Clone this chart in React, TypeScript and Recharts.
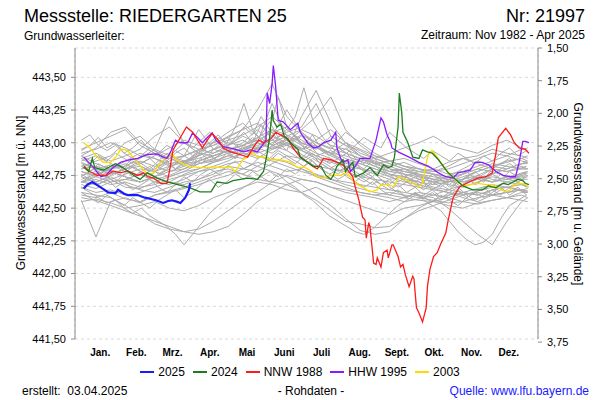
import { LineChart, Line, XAxis, YAxis, CartesianGrid, Legend } from "recharts";

// day-of-year axis: ticks on month starts, labels in the middle of each month
const MONTH_STARTS = [0, 31, 59, 90, 120, 151, 181, 212, 243, 273, 304, 334, 365];
const MONTH_MIDS = [15.5, 45, 74.5, 105, 135.5, 166, 196.5, 227.5, 258, 288.5, 319, 349.5];
const MONTH_LABELS = ["Jan.", "Feb.", "Mrz.", "Apr.", "Mai", "Juni", "Juli", "Aug.", "Sept.", "Okt.", "Nov.", "Dez."];

const LEFT_TICKS = [441.5, 441.75, 442.0, 442.25, 442.5, 442.75, 443.0, 443.25, 443.5];
const RIGHT_TICKS = [1.5, 1.75, 2.0, 2.25, 2.5, 2.75, 3.0, 3.25, 3.5, 3.75];

// all other years (grey), sampled every 12 days
const GRAY_DAYS = [0, 12, 24, 36, 48, 60, 72, 84, 96, 108, 120, 132, 144, 156, 168, 180, 192, 204, 216, 228, 240, 252, 264, 276, 288, 300, 312, 324, 336, 348, 360, 365];
const GRAY_YEARS: number[][] = [
  [442.85, 442.8, 442.83, 442.78, 442.75, 442.8, 442.86, 442.9, 442.95, 442.92, 442.98, 443.05, 443.0, 443.1, 443.02, 442.95, 442.98, 442.9, 442.85, 442.88, 442.82, 442.78, 442.8, 442.74, 442.7, 442.72, 442.68, 442.75, 442.8, 442.78, 442.82, 442.8],
  [442.7, 442.68, 442.72, 442.66, 442.65, 442.7, 442.74, 442.78, 442.8, 442.85, 442.9, 442.88, 442.95, 443.05, 443.25, 443.08, 442.98, 442.92, 442.86, 442.8, 442.78, 442.74, 442.7, 442.68, 442.65, 442.62, 442.6, 442.63, 442.66, 442.7, 442.68, 442.66],
  [442.92, 442.95, 443.0, 442.96, 442.9, 442.88, 442.84, 442.86, 442.9, 442.95, 443.0, 442.98, 443.02, 443.08, 443.12, 443.0, 442.95, 443.05, 442.98, 442.9, 442.86, 442.82, 442.85, 442.8, 442.78, 442.8, 442.84, 442.88, 442.92, 442.9, 442.86, 442.85],
  [442.6, 442.58, 442.62, 442.57, 442.55, 442.6, 442.63, 442.66, 442.7, 442.74, 442.78, 442.76, 442.82, 442.88, 442.85, 442.8, 442.76, 442.72, 442.68, 442.65, 442.62, 442.6, 442.58, 442.56, 442.55, 442.58, 442.62, 442.6, 442.64, 442.66, 442.63, 442.62],
  [442.78, 442.75, 442.8, 442.84, 442.78, 442.72, 442.75, 442.8, 442.86, 442.9, 442.94, 443.0, 443.1, 442.98, 442.94, 443.2, 443.4, 443.15, 443.0, 442.92, 442.88, 442.84, 442.8, 442.76, 442.74, 442.72, 442.76, 442.8, 442.78, 442.74, 442.76, 442.77],
  [442.56, 442.28, 442.55, 442.58, 442.54, 442.6, 442.62, 442.65, 442.68, 442.72, 442.75, 442.8, 442.85, 442.82, 442.78, 442.8, 442.74, 442.7, 442.66, 442.62, 442.6, 442.58, 442.55, 442.57, 442.6, 442.58, 442.55, 442.53, 442.56, 442.58, 442.6, 442.58],
  [442.88, 442.92, 442.86, 442.9, 442.95, 443.05, 443.12, 443.0, 442.95, 442.98, 443.05, 443.1, 443.15, 443.05, 443.0, 442.95, 443.02, 443.1, 443.0, 442.95, 442.9, 442.86, 442.82, 442.78, 442.8, 442.85, 442.88, 442.9, 442.95, 442.92, 442.9, 442.88],
  [442.62, 442.6, 442.58, 442.52, 442.45, 442.38, 442.34, 442.32, 442.34, 442.4, 442.48, 442.56, 442.62, 442.7, 442.75, 442.72, 442.7, 442.66, 442.62, 442.6, 442.58, 442.55, 442.58, 442.62, 442.6, 442.64, 442.62, 442.65, 442.68, 442.66, 442.64, 442.63],
  [442.75, 442.78, 442.72, 442.76, 442.8, 442.78, 442.74, 442.78, 442.84, 442.88, 442.92, 442.95, 443.0, 443.3, 443.05, 442.98, 442.92, 442.88, 442.82, 442.8, 442.76, 442.72, 442.74, 442.7, 442.68, 442.7, 442.72, 442.75, 442.72, 442.7, 442.73, 442.74],
  [442.7, 442.72, 442.68, 442.7, 442.66, 442.68, 442.72, 442.75, 442.78, 442.8, 442.84, 442.86, 442.82, 442.78, 442.74, 442.68, 442.6, 442.52, 442.42, 442.33, 442.3, 442.32, 442.42, 442.5, 442.56, 442.6, 442.62, 442.6, 442.64, 442.66, 442.68, 442.67],
  [442.82, 442.86, 442.9, 443.0, 443.05, 442.95, 442.9, 442.86, 442.9, 442.95, 442.98, 443.02, 442.96, 442.92, 443.0, 443.1, 443.05, 442.98, 442.95, 442.9, 442.85, 442.82, 442.78, 442.75, 442.72, 442.74, 442.8, 442.86, 442.82, 442.85, 442.88, 442.86],
  [442.68, 442.65, 442.7, 442.72, 442.7, 442.74, 442.7, 442.76, 442.8, 442.85, 442.88, 442.92, 442.9, 442.86, 442.82, 442.78, 442.75, 442.72, 442.7, 442.68, 442.66, 442.64, 442.62, 442.6, 442.58, 442.5, 442.4, 442.3, 442.22, 442.4, 442.55, 442.58],
  [442.9, 442.84, 442.8, 442.86, 442.92, 442.88, 442.82, 442.85, 442.92, 443.0, 443.08, 443.15, 443.05, 442.98, 443.02, 442.96, 442.9, 442.94, 442.88, 442.84, 442.8, 442.76, 442.74, 442.78, 442.76, 442.74, 442.7, 442.72, 442.76, 442.8, 442.84, 442.85],
  [442.55, 442.57, 442.54, 442.5, 442.52, 442.55, 442.5, 442.48, 442.52, 442.58, 442.62, 442.66, 442.7, 442.68, 442.64, 442.62, 442.66, 442.6, 442.56, 442.52, 442.48, 442.45, 442.5, 442.52, 442.55, 442.52, 442.5, 442.54, 442.56, 442.58, 442.56, 442.55],
  [442.8, 442.82, 442.78, 442.74, 442.7, 442.74, 442.8, 442.9, 443.1, 442.95, 442.92, 442.96, 443.0, 442.95, 442.98, 443.05, 442.96, 442.92, 443.0, 442.9, 442.84, 442.8, 442.76, 442.72, 442.7, 442.68, 442.66, 442.7, 442.74, 442.72, 442.76, 442.78],
  [442.95, 443.0, 443.05, 443.1, 442.98, 442.92, 442.88, 442.9, 442.94, 442.98, 443.02, 443.06, 443.12, 443.2, 443.1, 443.02, 442.96, 443.02, 442.92, 442.88, 442.84, 442.86, 442.88, 442.84, 442.8, 442.76, 442.78, 442.82, 442.86, 442.9, 442.95, 442.96],
  [442.65, 442.7, 442.74, 442.68, 442.64, 442.62, 442.66, 442.7, 442.72, 442.76, 442.82, 442.8, 442.78, 442.84, 442.9, 442.88, 442.82, 442.8, 442.78, 442.74, 442.72, 442.7, 442.68, 442.66, 442.64, 442.62, 442.58, 442.55, 442.6, 442.62, 442.64, 442.65],
  [442.72, 442.76, 442.8, 442.82, 442.88, 442.95, 443.2, 443.0, 442.92, 442.9, 442.94, 442.9, 442.96, 443.02, 443.08, 443.12, 443.3, 443.05, 442.98, 442.94, 442.88, 442.84, 442.8, 442.78, 442.76, 442.72, 442.7, 442.74, 442.7, 442.72, 442.74, 442.75],
  [442.58, 442.56, 442.52, 442.48, 442.44, 442.4, 442.36, 442.32, 442.3, 442.32, 442.36, 442.45, 442.55, 442.62, 442.68, 442.72, 442.7, 442.66, 442.64, 442.62, 442.6, 442.62, 442.6, 442.58, 442.56, 442.54, 442.55, 442.58, 442.6, 442.62, 442.64, 442.63],
  [442.78, 442.74, 442.7, 442.72, 442.76, 442.7, 442.68, 442.72, 442.78, 442.82, 442.86, 442.92, 442.88, 442.95, 443.0, 442.94, 442.88, 442.85, 442.82, 442.84, 442.8, 442.76, 442.72, 442.7, 442.66, 442.64, 442.68, 442.72, 442.7, 442.74, 442.72, 442.72],
  [442.66, 442.62, 442.64, 442.6, 442.62, 442.66, 442.7, 442.68, 442.72, 442.78, 442.8, 442.76, 442.72, 442.7, 442.68, 442.62, 442.56, 442.48, 442.4, 442.38, 442.35, 442.36, 442.42, 442.48, 442.52, 442.56, 442.6, 442.62, 442.6, 442.58, 442.62, 442.62],
  [442.86, 442.9, 442.84, 442.8, 442.84, 442.9, 442.96, 443.02, 442.98, 443.0, 443.04, 443.1, 443.25, 443.45, 443.2, 443.08, 443.0, 442.96, 442.92, 442.88, 442.84, 442.8, 442.78, 442.76, 442.72, 442.7, 442.72, 442.78, 442.82, 442.8, 442.84, 442.84],
  [442.74, 442.7, 442.75, 442.8, 442.86, 442.82, 442.78, 442.8, 442.84, 442.86, 442.9, 442.94, 442.92, 442.96, 443.0, 443.06, 443.0, 442.95, 443.08, 443.0, 442.92, 442.86, 442.82, 442.8, 442.78, 442.82, 442.88, 442.84, 442.8, 442.78, 442.8, 442.8],
  [442.7, 442.74, 442.78, 442.74, 442.7, 442.74, 442.78, 442.82, 442.86, 442.9, 442.94, 442.98, 442.95, 443.0, 443.05, 443.1, 443.2, 443.35, 443.1, 442.98, 442.9, 442.86, 442.82, 442.8, 442.76, 442.74, 442.76, 442.8, 442.84, 442.82, 442.8, 442.8],
  [442.84, 442.8, 442.76, 442.8, 442.82, 442.78, 442.82, 442.86, 442.88, 442.92, 442.96, 442.94, 442.98, 443.02, 442.98, 442.94, 442.9, 442.86, 442.84, 442.86, 442.88, 442.92, 442.96, 443.0, 443.05, 442.98, 442.95, 442.92, 442.98, 443.02, 442.96, 442.94],
  [442.9, 442.96, 443.08, 443.12, 443.0, 442.94, 442.88, 442.84, 442.86, 442.9, 442.94, 442.98, 443.04, 443.1, 443.06, 443.0, 442.96, 442.92, 442.9, 442.86, 442.82, 442.78, 442.76, 442.74, 442.72, 442.7, 442.74, 442.78, 442.82, 442.86, 442.88, 442.9],
];

// a few more grey years, sampled weekly
const GRAY_WEEKS = [0, 7, 14, 21, 28, 35, 42, 49, 56, 63, 70, 77, 84, 91, 98, 105, 112, 119, 126, 133, 140, 147, 154, 161, 168, 175, 182, 189, 196, 203, 210, 217, 224, 231, 238, 245, 252, 259, 266, 273, 280, 287, 294, 301, 308, 315, 322, 329, 336, 343, 350, 357, 364];
const GRAY_WEEKLY: number[][] = [
  [442.8, 442.84, 442.78, 442.82, 442.76, 442.8, 442.74, 442.78, 442.82, 442.76, 442.8, 442.86, 442.82, 442.88, 442.92, 442.86, 442.9, 442.96, 442.92, 442.98, 443.04, 442.98, 443.1, 443.35, 443.12, 443.04, 442.98, 443.06, 442.96, 442.92, 442.88, 442.92, 442.84, 442.8, 442.86, 442.78, 442.74, 442.78, 442.72, 442.7, 442.74, 442.68, 442.72, 442.66, 442.7, 442.74, 442.68, 442.72, 442.76, 442.72, 442.78, 442.74, 442.76],
  [442.94, 442.98, 443.04, 442.96, 443.0, 442.92, 442.96, 443.02, 442.94, 442.9, 442.86, 442.92, 442.96, 442.9, 442.94, 443.0, 443.06, 442.98, 443.02, 443.08, 443.0, 443.14, 443.05, 442.98, 443.04, 442.94, 442.9, 442.96, 442.88, 442.84, 442.88, 442.8, 442.84, 442.78, 442.74, 442.8, 442.76, 442.7, 442.74, 442.68, 442.64, 442.7, 442.66, 442.72, 442.68, 442.74, 442.78, 442.72, 442.8, 442.84, 442.88, 442.82, 442.86],
  [442.62, 442.58, 442.54, 442.6, 442.56, 442.52, 442.58, 442.54, 442.5, 442.56, 442.6, 442.64, 442.58, 442.62, 442.68, 442.72, 442.66, 442.7, 442.76, 442.72, 442.78, 442.74, 442.7, 442.76, 442.7, 442.66, 442.6, 442.56, 442.5, 442.44, 442.4, 442.36, 442.32, 442.3, 442.34, 442.4, 442.46, 442.52, 442.56, 442.6, 442.58, 442.62, 442.56, 442.6, 442.64, 442.58, 442.62, 442.66, 442.6, 442.64, 442.62, 442.66, 442.6],
  [442.76, 442.72, 442.78, 442.74, 442.7, 442.76, 442.82, 442.78, 442.74, 442.8, 442.84, 442.8, 442.86, 442.82, 442.88, 442.84, 442.9, 442.94, 442.88, 442.96, 442.92, 443.0, 442.96, 443.04, 443.1, 443.2, 443.42, 443.18, 443.06, 442.98, 442.92, 442.96, 442.88, 442.84, 442.9, 442.82, 442.78, 442.8, 442.74, 442.7, 442.66, 442.72, 442.68, 442.64, 442.7, 442.74, 442.68, 442.72, 442.7, 442.76, 442.72, 442.7, 442.74],
  [442.66, 442.62, 442.58, 442.54, 442.56, 442.5, 442.46, 442.5, 442.44, 442.4, 442.36, 442.3, 442.22, 442.3, 442.38, 442.46, 442.52, 442.58, 442.62, 442.66, 442.7, 442.74, 442.78, 442.74, 442.8, 442.76, 442.82, 442.86, 442.8, 442.76, 442.72, 442.76, 442.7, 442.66, 442.7, 442.64, 442.6, 442.64, 442.58, 442.62, 442.58, 442.55, 442.6, 442.56, 442.52, 442.58, 442.62, 442.58, 442.62, 442.66, 442.6, 442.64, 442.62],
  [442.88, 442.84, 442.9, 442.86, 442.92, 442.88, 442.84, 442.9, 442.96, 442.92, 442.98, 442.94, 443.0, 442.96, 443.02, 443.08, 443.02, 442.96, 443.04, 443.12, 443.06, 443.2, 443.1, 443.02, 442.98, 443.04, 442.96, 443.0, 442.94, 442.9, 442.96, 442.92, 442.98, 443.04, 443.0, 442.96, 443.08, 443.02, 442.96, 442.92, 442.88, 442.94, 442.9, 442.86, 442.92, 442.88, 442.84, 442.9, 442.86, 442.92, 442.96, 442.9, 442.94],
  [442.7, 442.74, 442.68, 442.72, 442.66, 442.7, 442.64, 442.68, 442.72, 442.66, 442.62, 442.68, 442.74, 442.7, 442.76, 442.8, 442.76, 442.82, 442.86, 442.8, 442.84, 442.9, 442.86, 442.92, 442.88, 442.84, 442.9, 442.86, 442.8, 442.76, 442.8, 442.74, 442.7, 442.76, 442.72, 442.68, 442.64, 442.68, 442.62, 442.66, 442.6, 442.64, 442.58, 442.62, 442.66, 442.6, 442.56, 442.6, 442.64, 442.6, 442.66, 442.7, 442.66],
  [442.82, 442.78, 442.84, 442.8, 442.76, 442.82, 442.88, 442.84, 442.8, 442.86, 442.92, 442.88, 442.84, 442.9, 442.96, 442.92, 442.98, 443.04, 442.98, 442.94, 443.0, 443.06, 443.16, 443.04, 442.98, 442.94, 442.88, 442.92, 442.86, 442.82, 442.78, 442.82, 442.76, 442.72, 442.68, 442.72, 442.66, 442.62, 442.58, 442.62, 442.56, 442.52, 442.48, 442.4, 442.32, 442.26, 442.22, 442.24, 442.3, 442.42, 442.52, 442.56, 442.6],
  [442.74, 442.78, 442.82, 442.78, 442.84, 442.8, 442.86, 442.82, 442.78, 442.84, 442.88, 442.94, 442.9, 442.86, 442.92, 442.98, 443.04, 443.0, 443.12, 443.3, 443.1, 443.02, 442.96, 443.0, 442.94, 442.9, 442.86, 442.9, 442.84, 442.8, 442.84, 442.78, 442.74, 442.7, 442.74, 442.68, 442.72, 442.66, 442.7, 442.74, 442.7, 442.76, 442.72, 442.68, 442.74, 442.78, 442.72, 442.76, 442.8, 442.76, 442.72, 442.76, 442.78],
  [443.02, 443.06, 442.98, 442.94, 442.98, 442.92, 442.88, 442.84, 442.88, 442.82, 442.86, 442.8, 442.84, 442.88, 442.84, 442.9, 442.86, 442.92, 442.88, 442.94, 442.98, 442.92, 442.88, 442.94, 442.9, 442.86, 442.82, 442.88, 442.84, 442.8, 442.76, 442.82, 442.78, 442.74, 442.78, 442.72, 442.68, 442.74, 442.7, 442.66, 442.7, 442.64, 442.68, 442.72, 442.66, 442.7, 442.74, 442.7, 442.76, 442.8, 442.84, 442.8, 442.82],
];

// highlighted years: [day of year, level m ü. NN]
const Y2025: [number, number][] = [
  [2, 442.65], [5, 442.68], [9, 442.7], [14, 442.67], [19, 442.64], [22, 442.62], [28, 442.615], [30, 442.64], [35, 442.61], [38, 442.6], [46, 442.6], [52, 442.58], [57, 442.57], [61, 442.56], [67, 442.54], [71, 442.555], [74, 442.56], [78, 442.55], [81, 442.54], [85, 442.58], [88, 442.64], [89, 442.69],
];
const Y2024: [number, number][] = [
  [2, 442.815], [6, 442.78], [9, 442.88], [11, 442.81], [18, 442.79], [28, 442.84], [34, 442.81], [43, 442.75], [48, 442.72], [54, 442.77], [62, 442.73], [70, 442.7], [79, 442.68], [89, 442.655], [97, 442.625], [106, 442.625], [111, 442.7], [119, 442.69], [124, 442.71], [136, 442.73], [144, 442.72], [149, 442.78], [152, 442.92], [154, 443.04], [156, 443.25], [157, 443.17], [160, 443.12], [163, 443.14], [166, 443.05], [171, 443.0], [177, 442.95], [179, 442.89], [185, 442.85], [190, 442.82], [196, 442.82], [200, 442.75], [204, 442.72], [206, 442.75], [209, 442.82], [214, 442.87], [216, 442.78], [218, 442.81], [222, 442.85], [224, 442.74], [231, 442.77], [236, 442.81], [242, 442.75], [247, 442.83], [251, 442.81], [254, 442.82], [256, 442.89], [259, 443.12], [260, 443.38], [262, 443.23], [263, 443.08], [267, 443.0], [271, 442.89], [276, 442.88], [279, 442.945], [283, 442.93], [287, 442.92], [292, 442.87], [300, 442.77], [306, 442.72], [312, 442.67], [320, 442.64], [328, 442.64], [333, 442.67], [339, 442.655], [345, 442.69], [349, 442.68], [357, 442.72], [361, 442.71], [363, 442.69], [366, 442.68],
];
const NNW1988: [number, number][] = [
  [2, 442.82], [7, 442.78], [13, 442.75], [21, 442.75], [26, 442.785], [32, 442.77], [38, 442.785], [46, 442.75], [51, 442.77], [54, 442.74], [59, 442.73], [65, 442.69], [70, 442.69], [72, 442.78], [75, 442.945], [81, 443.04], [86, 443.12], [91, 443.08], [95, 443.02], [99, 442.96], [103, 443.02], [107, 443.07], [112, 443.02], [116, 442.96], [122, 442.93], [130, 442.91], [136, 442.89], [141, 442.97], [145, 443.02], [149, 443.0], [155, 443.03], [159, 443.08], [163, 443.06], [169, 443.03], [173, 442.96], [179, 442.89], [185, 442.85], [189, 442.82], [193, 442.8], [198, 442.88], [204, 442.87], [209, 442.85], [214, 442.83], [218, 442.79], [222, 442.74], [224, 442.66], [227, 442.56], [230, 442.43], [232, 442.41], [233, 442.27], [235, 442.39], [236, 442.36], [239, 442.08], [241, 442.07], [242, 442.12], [245, 442.05], [247, 442.16], [250, 442.18], [251, 442.12], [254, 442.22], [255, 442.22], [259, 442.13], [261, 442.05], [263, 442.07], [265, 441.99], [268, 441.9], [271, 441.98], [272, 441.96], [274, 441.74], [276, 441.7], [279, 441.63], [282, 441.74], [283, 441.9], [285, 442.03], [288, 442.13], [291, 442.16], [294, 442.23], [298, 442.31], [300, 442.41], [304, 442.58], [309, 442.66], [317, 442.7], [324, 442.73], [331, 442.74], [336, 442.77], [339, 442.92], [341, 443.04], [347, 443.11], [351, 443.06], [354, 443.0], [358, 442.96], [363, 442.95], [366, 442.92],
];
const HHW1995: [number, number][] = [
  [2, 442.89], [6, 442.85], [10, 442.81], [16, 442.74], [20, 442.75], [26, 442.81], [32, 442.85], [40, 442.87], [46, 442.88], [54, 442.91], [62, 442.915], [67, 442.89], [70, 442.88], [73, 442.93], [77, 443.02], [81, 443.0], [87, 443.0], [91, 443.075], [95, 443.04], [99, 443.0], [103, 443.04], [107, 443.075], [110, 443.02], [116, 442.97], [124, 442.955], [133, 442.93], [138, 442.945], [144, 442.93], [148, 442.98], [151, 443.02], [152, 443.38], [154, 443.3], [156, 443.45], [157, 443.59], [159, 443.42], [161, 443.17], [165, 443.16], [171, 443.1], [177, 443.15], [179, 443.08], [185, 443.0], [190, 442.96], [194, 442.97], [198, 443.0], [204, 443.02], [208, 443.08], [209, 442.96], [212, 442.88], [214, 442.85], [218, 442.87], [220, 442.78], [224, 442.82], [228, 442.88], [236, 442.88], [241, 443.02], [245, 443.19], [247, 443.16], [250, 443.06], [253, 443.0], [254, 442.96], [259, 442.93], [268, 442.89], [276, 442.85], [284, 442.82], [292, 442.77], [298, 442.74], [304, 442.73], [308, 442.77], [313, 442.78], [318, 442.79], [322, 442.85], [328, 442.85], [333, 442.83], [339, 442.78], [345, 442.75], [351, 442.74], [355, 442.74], [358, 442.85], [361, 443.01], [363, 443.01], [366, 443.0],
];
const Y2003: [number, number][] = [
  [2, 443.0], [7, 442.96], [13, 442.89], [18, 442.85], [24, 442.85], [28, 442.89], [32, 442.945], [34, 442.95], [38, 442.94], [42, 442.89], [46, 442.85], [51, 442.79], [55, 442.76], [59, 442.77], [65, 442.85], [70, 442.89], [74, 442.92], [77, 442.88], [81, 442.85], [87, 442.82], [92, 442.815], [97, 442.81], [103, 442.81], [108, 442.815], [114, 442.81], [122, 442.815], [126, 442.78], [132, 442.87], [136, 442.89], [140, 442.93], [144, 442.89], [149, 442.89], [155, 442.87], [163, 442.87], [171, 442.85], [177, 442.81], [182, 442.815], [187, 442.79], [193, 442.74], [198, 442.73], [204, 442.75], [212, 442.75], [216, 442.77], [220, 442.74], [226, 442.68], [231, 442.655], [236, 442.625], [242, 442.64], [245, 442.68], [250, 442.68], [255, 442.665], [257, 442.69], [259, 442.74], [265, 442.72], [271, 442.69], [276, 442.66], [279, 442.69], [282, 442.845], [284, 442.92], [287, 442.94], [291, 442.89], [296, 442.82], [302, 442.75], [308, 442.7], [313, 442.67], [318, 442.68], [324, 442.69], [331, 442.68], [336, 442.68], [341, 442.655], [347, 442.625], [351, 442.64], [354, 442.68], [358, 442.69], [362, 442.685], [366, 442.66],
];

const HIGHLIGHTS = [
  { name: "2025", color: "#1a1aff", width: 2.2, points: Y2025 },
  { name: "2024", color: "#1c7d1c", width: 1.3, points: Y2024 },
  { name: "NNW 1988", color: "#ff1a1a", width: 1.3, points: NNW1988 },
  { name: "HHW 1995", color: "#8a1aff", width: 1.3, points: HHW1995 },
  { name: "2003", color: "#ffdc00", width: 1.3, points: Y2003 },
];

const X_DOMAIN = [-5.15, 373.4];
const FONT = "'Liberation Sans', Arial, sans-serif";
const AXIS_GREY = "#8c8c8c";
const GREY_LINE = "#ababab";

const fmt = (v: number) => v.toFixed(2).replace(".", ",");

function ChartLegend() {
  return (
    <div style={{ display: "flex", justifyContent: "center", alignItems: "center", fontSize: 12, fontFamily: FONT, color: "#000" }}>
      {HIGHLIGHTS.map((h) => (
        <span key={h.name} style={{ display: "inline-flex", alignItems: "center", margin: "0 4px" }}>
          <span style={{ display: "inline-block", width: 14, height: h.width > 2 ? 2.5 : 1.5, background: h.color, marginRight: 4 }} />
          {h.name}
        </span>
      ))}
    </div>
  );
}

export default function App() {
  const grayData = [
    ...GRAY_YEARS.map((row) => row.map((v, i) => ({ d: GRAY_DAYS[i], v }))),
    ...GRAY_WEEKLY.map((row) => row.map((v, i) => ({ d: GRAY_WEEKS[i], v }))),
  ];
  const drawOrder = [...HIGHLIGHTS].reverse();

  return (
    <div style={{ position: "absolute", left: 0, top: 0, width: 600, height: 400, background: "#fff", fontFamily: FONT }}>
      <LineChart width={600} height={400} margin={{ top: 48, right: 22, bottom: 41, left: 15 }}>
        <CartesianGrid xAxisId="g" yAxisId="l" stroke="#d9d9d9" strokeDasharray="3 3" />
        <XAxis
          xAxisId="g"
          dataKey="d"
          type="number"
          domain={X_DOMAIN}
          allowDataOverflow
          ticks={MONTH_STARTS}
          interval={0}
          tick={false}
          tickSize={4}
          height={0}
          axisLine={{ stroke: AXIS_GREY }}
          tickLine={{ stroke: AXIS_GREY }}
        />
        <XAxis
          xAxisId="m"
          dataKey="d"
          type="number"
          domain={X_DOMAIN}
          allowDataOverflow
          ticks={MONTH_MIDS}
          interval={0}
          axisLine={false}
          tickLine={false}
          tickSize={0}
          tickMargin={10}
          height={20}
          tickFormatter={(v: number) => MONTH_LABELS[MONTH_MIDS.indexOf(v)] ?? ""}
          tick={{ fontSize: 10, fontWeight: "bold", fill: "#000" }}
        />
        <YAxis
          yAxisId="l"
          type="number"
          domain={[441.5, 443.724]}
          allowDataOverflow
          ticks={LEFT_TICKS}
          interval={0}
          width={60}
          tickSize={4}
          tickMargin={5}
          tickFormatter={fmt}
          tick={{ fontSize: 11, fill: "#000" }}
          axisLine={{ stroke: AXIS_GREY }}
          tickLine={{ stroke: AXIS_GREY }}
        />
        <YAxis
          yAxisId="r"
          orientation="right"
          type="number"
          domain={[1.5, 3.726]}
          reversed
          allowDataOverflow
          ticks={RIGHT_TICKS}
          interval={0}
          width={40}
          tickSize={4}
          tickMargin={5}
          tickFormatter={fmt}
          tick={{ fontSize: 11, fill: "#000" }}
          axisLine={{ stroke: AXIS_GREY }}
          tickLine={{ stroke: AXIS_GREY }}
        />
        {grayData.map((data, i) => (
          <Line
            key={"g" + i}
            xAxisId="g"
            yAxisId="l"
            data={data}
            dataKey="v"
            type="linear"
            stroke={GREY_LINE}
            strokeWidth={1}
            dot={false}
            legendType="none"
            isAnimationActive={false}
          />
        ))}
        {drawOrder.map((h) => (
          <Line
            key={h.name}
            xAxisId="g"
            yAxisId="l"
            data={h.points.map(([d, v]) => ({ d, v }))}
            dataKey="v"
            name={h.name}
            type="linear"
            stroke={h.color}
            strokeWidth={h.width}
            dot={false}
            isAnimationActive={false}
          />
        ))}
        <Legend
          layout="vertical"
          align="center"
          verticalAlign="middle"
          wrapperStyle={{ left: 0, top: 365, width: 600 }}
          content={() => <ChartLegend />}
        />
      </LineChart>

      <svg width={600} height={400} style={{ position: "absolute", left: 0, top: 0, pointerEvents: "none" }} fontFamily={FONT}>
        <text x={24} y={22} fontSize={18} fill="#000">Messstelle: RIEDERGARTEN 25</text>
        <text x={585} y={22} fontSize={18} fill="#000" textAnchor="end">Nr: 21997</text>
        <text x={24} y={40} fontSize={12} fill="#000">Grundwasserleiter:</text>
        <text x={585} y={39} fontSize={12} fill="#000" textAnchor="end">Zeitraum: Nov 1982 - Apr 2025</text>
        <text x={21} y={193} fontSize={12} fill="#000" textAnchor="middle" dominantBaseline="central" transform="rotate(-90 21 193)">
          Grundwasserstand [m ü. NN]
        </text>
        <text x={578} y={194} fontSize={12} fill="#000" textAnchor="middle" dominantBaseline="central" transform="rotate(90 578 194)">
          Grundwasserstand [m u. Gelände]
        </text>
        <text x={22} y={395} fontSize={12} fill="#000" style={{ whiteSpace: "pre" }}>erstellt:  03.04.2025</text>
        <text x={311} y={395} fontSize={12} fill="#000" textAnchor="middle">- Rohdaten -</text>
        <text x={589} y={395} fontSize={12} fill="#1a1aff" textAnchor="end">Quelle: www.lfu.bayern.de</text>
      </svg>
    </div>
  );
}
